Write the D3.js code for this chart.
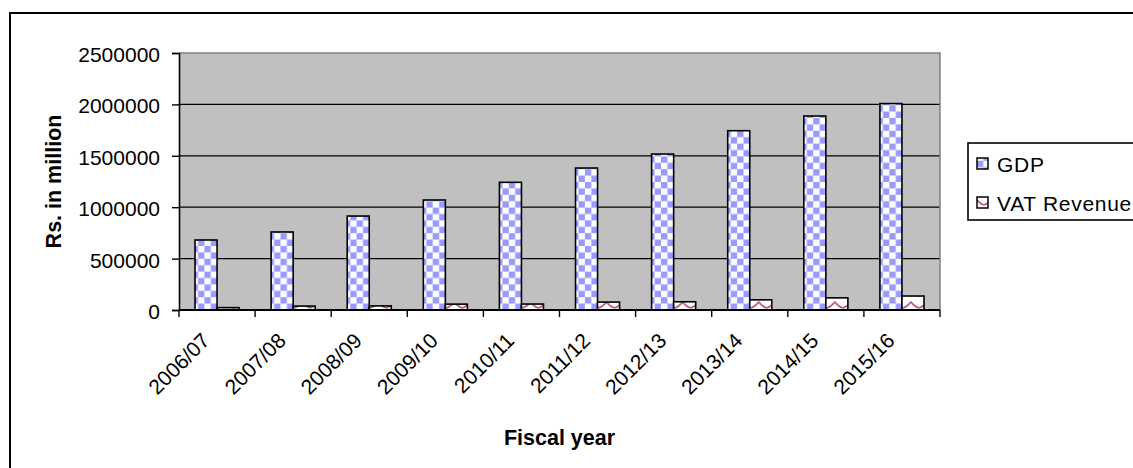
<!DOCTYPE html>
<html>
<head>
<meta charset="utf-8">
<script src="https://cdn.jsdelivr.net/npm/d3@7/dist/d3.min.js"></script>
<style>
  html, body { margin: 0; padding: 0; background: #fff; }
  svg { display: block; font-family: "Liberation Sans", Arial, sans-serif; }
</style>
</head>
<body>
<svg id="chart" width="1133" height="468"></svg>
<script>
// Fiscal years on the category axis
const years = ["2006/07", "2007/08", "2008/09", "2009/10", "2010/11",
               "2011/12", "2012/13", "2013/14", "2014/15", "2015/16"];
// GDP, Rs. in million
const gdp = [681000, 759000, 914000, 1070000, 1242000, 1381000, 1517000, 1744000, 1887000, 2008000];
// VAT revenue, Rs. in million
const vat = [23000, 38000, 40000, 57000, 58000, 77000, 80000, 99000, 118000, 136000];
// Series names and y tick values
const seriesNames = ["GDP", "VAT Revenue"];
const yTicks = [0, 500000, 1000000, 1500000, 2000000, 2500000];

const svg = d3.select("#chart");
const plot = { left: 179, right: 940, top: 53, bottom: 310 };

// Fill patterns: blue checkerboard for GDP, pink wave for VAT
const defs = svg.append("defs");
const cs = 6.4;
const checker = defs.append("pattern")
  .attr("id", "checker").attr("patternUnits", "userSpaceOnUse")
  .attr("width", cs * 2).attr("height", cs * 2)
  .attr("patternTransform", `translate(${plot.left},${plot.bottom})`);
checker.append("rect").attr("width", cs * 2).attr("height", cs * 2).attr("fill", "#fff");
checker.append("rect").attr("width", cs).attr("height", cs).attr("fill", "#9999ff");
checker.append("rect").attr("x", cs).attr("y", cs).attr("width", cs).attr("height", cs).attr("fill", "#9999ff");

const wave = defs.append("pattern")
  .attr("id", "wave").attr("patternUnits", "userSpaceOnUse")
  .attr("width", 16).attr("height", 12)
  .attr("patternTransform", `translate(${plot.left + 4},${plot.bottom})`);
wave.append("rect").attr("width", 16).attr("height", 12).attr("fill", "#fff");
wave.append("path").attr("d", "M0,10 Q4,9 8,4 Q12,9 16,10")
  .attr("fill", "none").attr("stroke", "#b8507e").attr("stroke-width", 1.5);

// Outer chart frame
svg.append("rect").attr("x", 10).attr("y", 13).attr("width", 1140).attr("height", 470)
  .attr("fill", "none").attr("stroke", "#000").attr("stroke-width", 2);

// Scales
const x0 = d3.scaleBand().domain(years).range([plot.left, plot.right]).paddingInner(0).paddingOuter(0);
const x1 = d3.scaleBand().domain(seriesNames).range([0, x0.bandwidth()]).paddingInner(0).paddingOuter(0.727);
const y = d3.scaleLinear().domain([0, 2500000]).range([plot.bottom, plot.top]);

// Plot area background
svg.append("rect").attr("x", plot.left).attr("y", plot.top)
  .attr("width", plot.right - plot.left).attr("height", plot.bottom - plot.top)
  .attr("fill", "#c0c0c0");

// Gridlines
svg.append("g").selectAll("line").data(yTicks.filter(d => d > 0 && d < 2500000)).join("line")
  .attr("x1", plot.left).attr("x2", plot.right)
  .attr("y1", d => y(d)).attr("y2", d => y(d))
  .attr("stroke", "#000").attr("stroke-width", 1.2);

// Plot area border (top and right)
svg.append("path")
  .attr("d", `M${plot.left},${plot.top}H${plot.right}V${plot.bottom}`)
  .attr("fill", "none").attr("stroke", "#808080").attr("stroke-width", 1.5);

// Bars
const rows = years.map((yr, i) => ({ year: yr, values: [gdp[i], vat[i]] }));
const groups = svg.append("g").selectAll("g").data(rows).join("g")
  .attr("transform", d => `translate(${x0(d.year)},0)`);
groups.selectAll("rect").data(d => d.values.map((v, k) => ({ key: seriesNames[k], v }))).join("rect")
  .attr("x", d => x1(d.key))
  .attr("width", x1.bandwidth())
  .attr("y", d => y(d.v))
  .attr("height", d => y(0) - y(d.v))
  .attr("fill", d => d.key === "GDP" ? "url(#checker)" : "url(#wave)")
  .attr("stroke", "#000").attr("stroke-width", 1.6);

// Y axis
const yAxis = svg.append("g").attr("transform", `translate(${plot.left},0)`)
  .call(d3.axisLeft(y).tickValues(yTicks).tickFormat(d3.format("d")).tickSize(7).tickPadding(12));
yAxis.select(".domain").attr("stroke", "#000").attr("stroke-width", 1.6);
yAxis.selectAll(".tick line").attr("stroke", "#000").attr("stroke-width", 1.4);
yAxis.selectAll(".tick text").attr("font-size", 21).attr("fill", "#000")
  .attr("font-family", "Liberation Sans, Arial, sans-serif").attr("dy", "0.4em");

// X axis with boundary ticks between categories
const xAxis = svg.append("g").attr("transform", `translate(0,${plot.bottom})`);
xAxis.append("line").attr("x1", plot.left).attr("x2", plot.right)
  .attr("stroke", "#000").attr("stroke-width", 1.8);
const bounds = years.map(d => x0(d)).concat([plot.right]);
xAxis.selectAll("line.tk").data(bounds).join("line").attr("class", "tk")
  .attr("x1", d => d).attr("x2", d => d).attr("y1", 0).attr("y2", 7)
  .attr("stroke", "#000").attr("stroke-width", 1.4);
xAxis.selectAll("text").data(years).join("text")
  .attr("transform", d => `translate(${x0(d) + x0.bandwidth() / 2 - 6},32) rotate(-45)`)
  .attr("text-anchor", "end")
  .attr("font-size", 21).attr("fill", "#000")
  .text(d => d);

// Axis titles
svg.append("text")
  .attr("transform", `translate(61,${(plot.top + plot.bottom) / 2}) rotate(-90)`)
  .attr("text-anchor", "middle").attr("font-size", 21.5).attr("font-weight", "bold")
  .text("Rs. in million");
svg.append("text")
  .attr("x", (plot.left + plot.right) / 2).attr("y", 445)
  .attr("text-anchor", "middle").attr("font-size", 21.5).attr("font-weight", "bold")
  .text("Fiscal year");

// Legend
const legend = svg.append("g");
legend.append("rect").attr("x", 968).attr("y", 143).attr("width", 200).attr("height", 77)
  .attr("fill", "#fff").attr("stroke", "#000").attr("stroke-width", 1.6);
const items = legend.selectAll("g").data(seriesNames).join("g")
  .attr("transform", (d, i) => `translate(977,${158 + i * 39})`);
items.append("rect").attr("width", 11).attr("height", 11)
  .attr("fill", d => d === "GDP" ? "url(#checker)" : "url(#wave)")
  .attr("stroke", "#000").attr("stroke-width", 1.5);
items.append("text").attr("x", 20).attr("y", 14)
  .attr("font-size", 21).attr("letter-spacing", 0.7).attr("fill", "#000")
  .text(d => d);
</script>
</body>
</html>
